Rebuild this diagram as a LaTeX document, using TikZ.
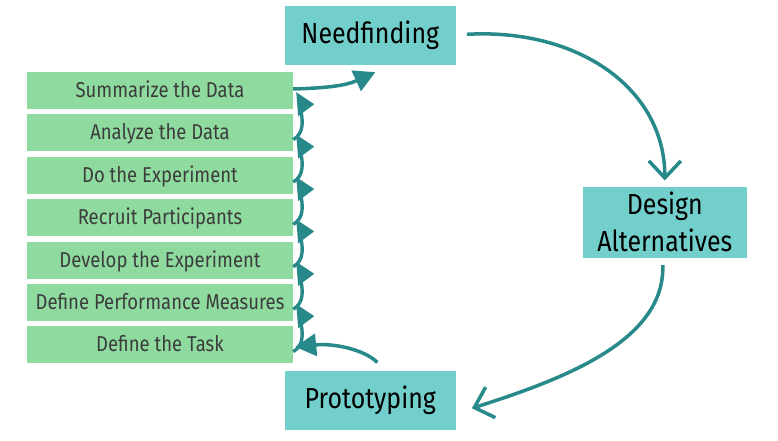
\documentclass[tikz,border=0pt]{standalone}
\usepackage{fontspec}
\setmainfont[FakeStretch=0.86]{Fira Sans}
\usetikzlibrary{arrows.meta,calc}
\definecolor{boxgreen}{HTML}{8FDB9F}
\definecolor{boxteal}{HTML}{72CFCB}
\definecolor{arrteal}{HTML}{27898A}
\definecolor{txtgray}{HTML}{3C3C3C}
\begin{document}
\begin{tikzpicture}[x=1pt,y=-1pt,
  stepbox/.style={fill=boxgreen, minimum width=266pt, minimum height=37pt, inner sep=0pt,
    text=txtgray, font=\fontsize{21.5}{24}\selectfont, text height=15pt, text depth=1pt},
  phase/.style={fill=boxteal, inner sep=0pt, text=black,
    font=\fontsize{29}{37}\selectfont, align=center},
  flow/.style={draw=arrteal, line width=3.5pt,
    -{Straight Barb[length=17pt,width=32pt,line width=3.5pt]}},
  feed/.style={draw=arrteal, line width=3.5pt, -{Triangle[length=21pt,width=22pt]}},
  chain/.style={draw=arrteal, line width=3.4pt},
  chainhead/.style={fill=arrteal}
]
\useasboundingbox (0,0) rectangle (778,441);

\node[stepbox] (b1) at (160,90.5) {Summarize the Data};
\node[stepbox] (b2) at (160,132.9) {Analyze the Data};
\node[stepbox] (b3) at (160,175.3) {Do the Experiment};
\node[stepbox] (b4) at (160,217.7) {Recruit Participants};
\node[stepbox] (b5) at (160,260.1) {Develop the Experiment};
\node[stepbox] (b6) at (160,302.5) {Define Performance Measures};
\node[stepbox] (b7) at (160,344.9) {Define the Task};

\node[phase, minimum width=170.7pt, minimum height=59.3pt] (need) at (370.3,35.3) {Needfinding};
\node[phase, minimum width=163.7pt, minimum height=71.3pt] (des) at (664.8,222.3) {Design\\Alternatives};
\node[phase, minimum width=170.7pt, minimum height=59.3pt] (proto) at (370.3,400.3) {Prototyping};

% main cycle
\draw[flow] ($(need.east)+(11,-1)$) .. controls (580,28) and (665,90) .. ($(des.north)+(0,-6)$);
\draw[flow] ($(des.south)+(-2,7)$) .. controls (665,340) and (567,378) .. ($(proto.east)+(16,8)$);
\draw[feed] ($(proto.north)+(7,-8)$) .. controls (365,350) and (335,343) .. ($(b7.east)+(2,2)$);
\draw[feed] ($(b1.east)+(0,-1.5)$) .. controls (325,88) and (345,86) .. ($(need.south)+(5,7)$);

% chain of small arrows between the steps
\foreach \k [evaluate=\k as \j using int(\k+1)] in {1,...,6} {
  \coordinate (s\k) at ($(b\j.south east)+(0,-12)$);
  \coordinate (t\k) at ($(b\k.south east)+(21,-5)$);
  \draw[chain] (s\k) .. controls +(11,-6) and +(3,12) .. ($(t\k)+(-14,4)$);
  \fill[chainhead] (t\k) -- ++(-18,-12) -- ++(2,24) -- cycle;
}
\end{tikzpicture}
\end{document}
